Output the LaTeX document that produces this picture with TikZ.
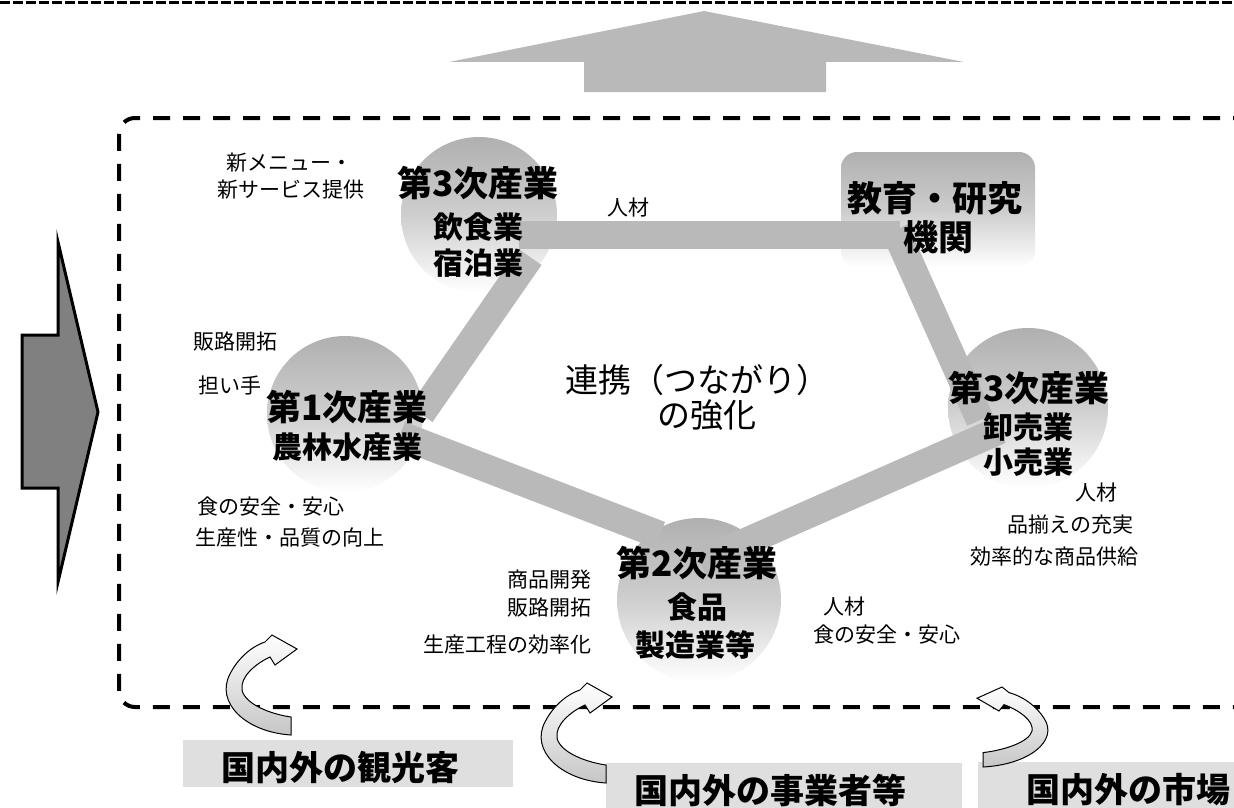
\documentclass[tikz,border=0pt]{standalone}
\usepackage{fontspec}
\setmainfont{Noto Sans CJK JP}
\begin{document}
\begin{tikzpicture}[x=1pt,y=-1pt,
  band/.style={line width=28pt, draw=gray!55},
  bubble/.style={circle, inner sep=0pt, top color=gray!62, bottom color=white, middle color=gray!38},
  big/.style={inner sep=0pt, font=\fontsize{35}{35}\selectfont\bfseries},
  sub/.style={inner sep=0pt, font=\fontsize{30}{30}\selectfont\bfseries},
  small/.style={inner sep=0pt, font=\fontsize{21}{21}\selectfont},
  center/.style={inner sep=0pt, font=\fontsize{33}{33}\selectfont},
  lab/.style={inner sep=0pt, font=\fontsize{34}{34}\selectfont\bfseries},
  labbg/.style={fill=gray!25, draw=none},
  border/.style={draw=black, line width=4pt, dash pattern=on 17pt off 13pt},
  curvarrow/.pic={
    \path[draw=black, line width=1pt, top color=white, bottom color=gray!45]
      (0,0) .. controls (-46,-3) and (-76,-33) .. (-61,-61)
      .. controls (-54,-75) and (-41,-88) .. (-26,-93)
      -- (-19,-100) -- (6,-86) -- (-16,-70) -- (-21,-78)
      .. controls (-36,-71) and (-51,-58) .. (-49,-45)
      .. controls (-46,-31) and (-21,-21) .. (0,-18) -- cycle;
  }]
\useasboundingbox (0,0) rectangle (1234,808);
\clip (0,0) rectangle (1234,808);
\fill[white] (0,0) rectangle (1234,808);

% top dashed rule
\draw[line width=3pt, dash pattern=on 10pt off 3pt] (0,3) -- (1234,3);

% up arrow
\fill[gray!55] (449,62) -- (704,11) -- (964,62) -- (826,62) -- (826,92) -- (584,92) -- (584,62) -- cycle;

% left arrow
\filldraw[fill=black!50, draw=black, line width=3pt, line join=miter]
  (22,335) -- (58,335) -- (58,242) -- (98,412) -- (58,582) -- (58,488) -- (22,488) -- cycle;

% dashed frame
\draw[border, rounded corners=16pt] (1250,118) -- (119,118) -- (119,707) -- (1250,707);

% node positions
\path (479,215) coordinate (p3top)
      (345,414) coordinate (p1)
      (1028,408) coordinate (p3right)
      (699,600) coordinate (p2)
      (938,209.5) coordinate (pedu);

\node[bubble, minimum size=156pt] (b3top) at (p3top) {};
\node[bubble, minimum size=156pt] (b1) at (p1) {};
\node[bubble, minimum size=160pt] (b3r) at (p3right) {};
\node[bubble, minimum size=164pt] (b2) at (p2) {};
\node[draw=none, rounded corners=16pt, minimum width=194pt, minimum height=115pt,
      top color=gray!62, bottom color=white, middle color=gray!40] (edu) at (pedu) {};

% bands (connectors)
\draw[band] ([shift={(76,0)}]b1.center) -- ([shift={(51,42)}]b3top.center);
\draw[band] ([shift={(40,20)}]b3top.center) -- ([shift={(-38,25.5)}]edu.center);
\draw[band] ([shift={(-43,20.5)}]edu.center) -- ([shift={(-48,12)}]b3r.center);
\draw[band] ([shift={(-28,22)}]b3r.center) -- ([shift={(1,-38)}]b2.center);
\draw[band] ([shift={(55,21)}]b1.center) -- ([shift={(-39,-65)}]b2.center);

% bubble texts
\node[big] (t3a) at (478,183) {第3次産業};
\node[sub] (t3b) at (478,227) {飲食業};
\node[sub] (t3c) at (478,263) {宿泊業};

\node[big] (t1a) at (347,407) {第1次産業};
\node[sub] (t1b) at (347,447) {農林水産業};

\node[big] (tra) at (1029,388) {第3次産業};
\node[sub] (trb) at (1028,427) {卸売業};
\node[sub] (trc) at (1028,462) {小売業};

\node[big] (t2a) at (697,563) {第2次産業};
\node[sub] (t2b) at (697,607) {食品};
\node[sub] (t2c) at (695,645) {製造業等};

\node[big] (te1) at (935,198) {教育・研究};
\node[big] (te2) at (938,237) {機関};

\node[center] (c1) at (697,380) {連携（つながり）};
\node[center] (c2) at (707,415) {の強化};

% small labels
\node[small] (s1) at (289,163) {新メニュー・};
\node[small] (s2) at (291,190) {新サービス提供};
\node[small, anchor=west] (s3) at (193,342) {販路開拓};
\node[small, anchor=west] (s4) at (198,385) {担い手};
\node[small, anchor=west] (s5) at (607,208) {人材};
\node[small, anchor=west] (s6) at (197,507) {食の安全・安心};
\node[small, anchor=west] (s7) at (195,538) {生産性・品質の向上};
\node[small, anchor=east] (s8) at (592,580) {商品開発};
\node[small, anchor=east] (s9) at (592,608) {販路開拓};
\node[small, anchor=east] (s10) at (592,645) {生産工程の効率化};
\node[small, anchor=west] (s11) at (823,607) {人材};
\node[small, anchor=west] (s12) at (813,635) {食の安全・安心};
\node[small, anchor=west] (s13) at (1075,493) {人材};
\node[small, anchor=west] (s14) at (1007,525) {品揃えの充実};
\node[small, anchor=west] (s15) at (970,557) {効率的な商品供給};

% bottom labels
\fill[labbg] (183,740) rectangle (513,787);
\fill[labbg] (606,763) rectangle (962,815);
\fill[labbg] (978,762) rectangle (1245,815);
\node[lab] (l1) at (340,768) {国内外の観光客};
\node[lab] (l2) at (770,790) {国内外の事業者等};
\node[lab, anchor=west] (l3) at (1026,790) {国内外の市場};

% curved arrows
\pic at (291,735) {curvarrow};
\pic at (606,783) {curvarrow};
\pic[xscale=-1, yscale=0.8] at (983,767) {curvarrow};
\end{tikzpicture}
\end{document}
